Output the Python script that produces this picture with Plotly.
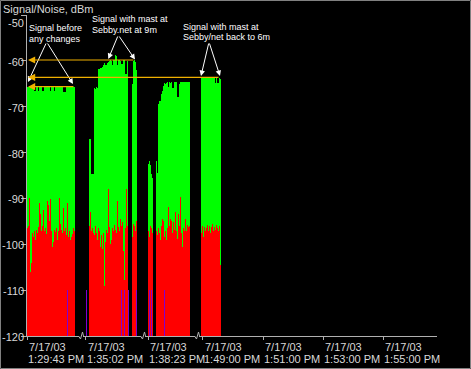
import plotly.graph_objects as go

# ---------------- data (one value per sample column, dBm) ----------------
block1_signal = [-65.7, -65.7, -65.7, -65.7, -65.7, -65.7, -65.7, -66.6, -66.6, -65.7,
                 -65.7, -66.6, -65.7, -65.7, -65.7, -66.6, -66.6, -65.7, -65.7, -65.7,
                 -65.7, -65.7, -65.7, -66.6, -65.7, -65.7, -65.7, -66.6, -65.7, -65.7,
                 -65.7, -65.7, -65.7, -65.7, -65.7, -65.7, -66.8, -66.8, -66.8, -65.7,
                 -65.7, -65.7, -65.7, -65.7, -65.7, -65.7, -65.7, -65.7]
block1_noise = [-96.5, -96.0, -90.0, -106.0, -104.0, -97.5, -98.5, -97.0, -99.0, -96.8,
                -97.5, -96.2, -91.0, -93.5, -97.0, -96.0, -92.5, -97.2, -96.5, -97.8,
                -90.5, -91.5, -95.0, -90.2, -97.0, -100.5, -99.5, -96.8, -97.3, -96.5,
                -99.0, -97.0, -89.8, -95.5, -96.8, -97.5, -92.0, -97.0, -96.5, -98.0,
                -91.0, -98.5, -97.0, -99.0, -98.5, -97.8, -96.5, -97.0]

block2a_signal = [-77.0, -77.0, -84.6, -84.6, -84.6, -66.0, -66.2, -65.8, -66.0, -61.8,
                  -61.8, -61.6, -61.5, -61.3, -60.8, -60.5, -61.0, -60.8, -60.4, -60.2,
                  -60.0, -59.9, -60.0, -61.0, -59.9, -59.9, -58.8, -58.9, -61.0, -59.9,
                  -59.9, -60.0, -60.7, -60.7, -59.9, -59.9, -62.9, -62.9, -60.0]
block2a_noise = [-96.0, -93.0, -97.0, -96.5, -97.5, -98.0, -96.0, -97.5, -99.0, -96.5,
                 -97.2, -100.5, -98.0, -101.0, -97.5, -109.0, -99.5, -96.8, -97.5, -88.0,
                 -96.2, -100.0, -99.0, -96.5, -97.2, -95.8, -96.8, -97.5, -90.5, -96.2,
                 -97.0, -94.5, -96.0, -95.2, -101.5, -107.8, -96.5, -88.0, -96.0]

block2b_signal = [-65.0, -60.0, -59.9, -60.2, -62.0]
block2b_noise = [-98.5, -95.5, -96.0, -97.0, -95.0]

block3a_signal = [-82.5, -81.8, -82.7, -84.6, -85.5]
block3a_noise = [-97.0, -98.5, -96.0, -96.5, -97.5]

block3b_signal = [-81.8, -84.5, -69.5, -68.8, -68.8, -67.2, -66.5, -65.5, -64.8, -65.0,
                  -64.8, -64.6, -65.8, -64.6, -64.8, -64.6, -65.9, -65.9, -64.6, -64.6,
                  -64.6, -67.8, -67.8, -65.0, -64.6, -64.6, -64.6, -64.6, -64.6, -64.6,
                  -64.6, -64.6, -64.6, -64.6]
block3b_noise = [-97.0, -98.0, -96.5, -97.5, -99.0, -96.0, -94.5, -95.0, -98.5, -97.0,
                 -99.0, -96.5, -91.8, -96.0, -94.5, -95.0, -97.5, -95.2, -96.8, -93.0,
                 -97.0, -98.8, -93.5, -96.0, -89.6, -97.5, -100.5, -96.5, -97.0, -94.5,
                 -97.0, -95.8, -96.2, -96.0]

block4_signal = [-63.7, -63.7, -63.7, -63.7, -63.7, -63.7, -63.7, -63.7, -63.7, -63.7,
                 -63.7, -63.7, -63.7, -63.7, -64.8, -63.7, -64.8, -64.8, -63.7, -64.0]
block4_noise = [-97.5, -96.0, -98.5, -96.2, -97.0, -96.5, -95.8, -97.2, -96.0, -97.5,
                -96.3, -95.6, -97.0, -96.2, -96.8, -95.8, -96.5, -97.2, -96.0, -104.5]

# samples missing between recorded blocks
gap_lengths = [14, 4, 11, 3, 11, 0]

# dropout markers (sample number, level dBm)
dropout_samples = [40, 59, 94, 97, 101, 109, 122, 124, 137]
dropout_level = [-110, -110, -110, -110, -110, -110, -110, -110, -110]

# broken time axis labels
tick_dates = ["7/17/03", "7/17/03", "7/17/03", "7/17/03", "7/17/03", "7/17/03", "7/17/03"]
tick_times = ["1:29:43 PM", "1:35:02 PM", "1:38:23 PM", "1:49:00 PM",
              "1:51:00 PM", "1:53:00 PM", "1:55:00 PM"]
y_ticks = [-50, -60, -70, -80, -90, -100, -110, -120]

# ---------------- build sample columns ----------------
blocks = [(block1_signal, block1_noise), (block2a_signal, block2a_noise),
          (block2b_signal, block2b_noise), (block3a_signal, block3a_noise),
          (block3b_signal, block3b_noise), (block4_signal, block4_noise)]
signal, noise = [], []
for (s, n), g in zip(blocks, gap_lengths):
    signal += s + [None] * g
    noise += n + [None] * g
samples = list(range(len(signal)))

BASE = -120
X0, X1 = -0.5, 409.5
tick_pos = [-0.5, 58, 120.5, 175, 235.5, 295.5, 355.5]
break_pos = [53.5, 115.5, 169.5]

def lengths(vals):
    return [None if v is None else v - BASE for v in vals]

fig = go.Figure()
fig.add_trace(go.Bar(x=samples, y=lengths(signal), base=BASE, width=1,
                     marker=dict(color="#00ff00", line=dict(width=0)), name="Signal"))
fig.add_trace(go.Bar(x=samples, y=lengths(noise), base=BASE, width=1,
                     marker=dict(color="#ff0000", line=dict(width=0)), name="Noise"))
fig.add_trace(go.Bar(x=dropout_samples, y=lengths(dropout_level), base=BASE, width=1,
                     marker=dict(color="#8000d0", line=dict(width=0)), name="Dropout"))

AX = "#b0b0b0"
TXT = "#d8d8d8"
FONT = "Liberation Sans, Arial, sans-serif"
PH = 321.0  # plot height in px
PW = 410.0  # plot width in px

fig.update_layout(
    width=471, height=369,
    margin=dict(l=27, r=34, t=15, b=33, autoexpand=False),
    paper_bgcolor="black", plot_bgcolor="black",
    barmode="overlay", bargap=0, showlegend=False, hovermode=False,
    font=dict(family=FONT, size=11, color=TXT),
    xaxis=dict(range=[X0, X1], showgrid=False, zeroline=False, automargin=False,
               showline=True, linecolor=AX, linewidth=1,
               tickvals=tick_pos, ticks="outside", ticklen=3, tickcolor=AX,
               showticklabels=False, fixedrange=True),
    yaxis=dict(range=[-120, -50], showgrid=False, zeroline=False, automargin=False,
               showline=True, linecolor=AX, linewidth=1,
               tickvals=y_ticks, ticks="outside", ticklen=5, tickcolor=AX,
               showticklabels=False, fixedrange=True),
)

def px2x(px):
    return px - 27.5

def py2y(py):
    return -50 - (py - 15) / (PH / 70)

def x2paper(x):
    return (x - X0) / (X1 - X0)

ann = []
# y tick labels
for v in y_ticks:
    yy = v if v != -50 else py2y(21.5)
    ann.append(dict(x=-1.5 / PW, xref="paper", y=yy, yref="y", yshift=-1,
                    text=str(v), showarrow=False, xanchor="right", yanchor="middle",
                    font=dict(size=11, color=TXT, family=FONT)))
# x tick labels (left aligned at tick)
for p, d, t in zip(tick_pos, tick_dates, tick_times):
    ann.append(dict(x=x2paper(p), xref="paper", y=-11 / PH, yref="paper", text=d,
                    showarrow=False, xanchor="left", yanchor="middle",
                    font=dict(size=11, color=TXT, family=FONT)))
    ann.append(dict(x=x2paper(p - 1), xref="paper", y=-22.5 / PH, yref="paper", text=t,
                    showarrow=False, xanchor="left", yanchor="middle",
                    font=dict(size=11, color=TXT, family=FONT)))

# axis title
ann.append(dict(x=-26 / PW, xref="paper", y=(336 - 9.5) / PH, yref="paper",
                text="Signal/Noise, dBm", showarrow=False, xanchor="left", yanchor="middle",
                font=dict(size=11, color=TXT, family=FONT)))

WHITE = "#ffffff"
notes = [
    (29, 28, "Signal before"), (29, 38.5, "any changes"),
    (92, 18.5, "Signal with mast at"), (92, 29.5, "Sebby.net at 9m"),
    (183, 26.5, "Signal with mast at"), (183, 36.5, "Sebby/net back to 6m"),
]
for px, py, t in notes:
    ann.append(dict(x=px2x(px - 2), y=py2y(py), xref="x", yref="y", text=t,
                    showarrow=False, xanchor="left", yanchor="middle",
                    font=dict(size=9, color=WHITE, family=FONT)))

arrows = [
    ((46.7, 42), (28, 82)), ((46.7, 42), (73, 84)),
    ((118.3, 35), (108.3, 59)), ((118.3, 35), (135, 59.5)),
    ((209, 42), (201, 76)), ((209, 42), (220, 76)),
]
for (tx, ty), (hx, hy) in arrows:
    ann.append(dict(x=px2x(hx), y=py2y(hy), ax=px2x(tx), ay=py2y(ty),
                    xref="x", yref="y", axref="x", ayref="y", text="",
                    showarrow=True, arrowhead=2, arrowsize=1.1, arrowwidth=1,
                    arrowcolor=WHITE))

YEL = "#f0b000"
levels = [(135, 60), (220, 77.3), (75, 86.7)]
for rx, py in levels:
    ann.append(dict(x=px2x(28), y=py2y(py), ax=px2x(rx), ay=py2y(py),
                    xref="x", yref="y", axref="x", ayref="y", text="",
                    showarrow=True, arrowhead=2, arrowsize=1.2, arrowwidth=1.2,
                    arrowcolor=YEL))

fig.update_layout(annotations=ann)

shapes = []
for b in break_pos:
    shapes.append(dict(type="rect", xref="x", yref="paper", x0=b - 2, x1=b + 2,
                       y0=-5 / PH, y1=2 / PH, fillcolor="black", line=dict(width=0),
                       layer="above"))
    shapes.append(dict(type="line", xref="x", yref="paper", x0=b - 2.5, x1=b - 0.5,
                       y0=0, y1=-3 / PH, line=dict(color=AX, width=1), layer="above"))
    shapes.append(dict(type="line", xref="x", yref="paper", x0=b - 0.5, x1=b + 1.5,
                       y0=-3 / PH, y1=4 / PH, line=dict(color=AX, width=1), layer="above"))
    shapes.append(dict(type="line", xref="x", yref="paper", x0=b + 1.5, x1=b + 2.5,
                       y0=4 / PH, y1=0, line=dict(color=AX, width=1), layer="above"))
# window border
shapes.append(dict(type="rect", xref="paper", yref="paper",
                   x0=(0.5 - 27) / PW, x1=(470.5 - 27) / PW,
                   y0=(336 - 368.5) / PH, y1=(336 - 0.5) / PH,
                   line=dict(color="#808080", width=1), fillcolor="rgba(0,0,0,0)",
                   layer="above"))
fig.update_layout(shapes=shapes)

fig.write_html("out.html",
               config={"displayModeBar": False, "staticPlot": True},
               post_script="document.body.style.margin='0';"
                           "document.body.style.overflow='hidden';"
                           "document.body.style.background='black';")
